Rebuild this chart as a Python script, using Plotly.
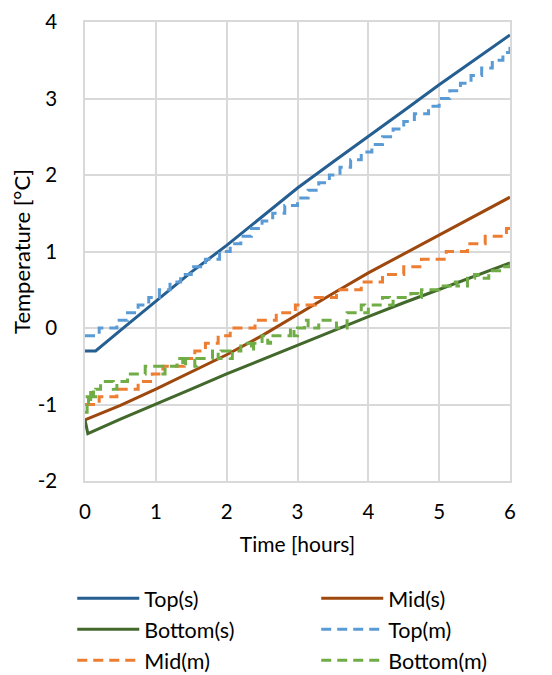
import plotly.graph_objects as go

# ---- data ----
t_solid = [0, 0.15, 0.5, 1, 1.5, 2, 2.5, 3, 3.5, 4, 4.5, 5, 5.5, 6]
top_s = [-0.3, -0.3, -0.03, 0.35, 0.73, 1.08, 1.46, 1.83, 2.17, 2.5, 2.84, 3.18, 3.5, 3.83]

t_mid_s = [0, 0.5, 1, 1.5, 2, 2.5, 3, 3.5, 4, 4.5, 5, 5.5, 6]
mid_s = [-1.2, -1.01, -0.8, -0.58, -0.35, -0.1, 0.18, 0.45, 0.72, 0.97, 1.22, 1.46, 1.71]

t_bot_s = [0, 0.04, 0.5, 1, 1.5, 2, 2.5, 3, 3.5, 4, 4.5, 5, 5.5, 6]
bot_s = [-1.2, -1.38, -1.19, -1.0, -0.8, -0.6, -0.41, -0.22, -0.03, 0.15, 0.33, 0.5, 0.68, 0.85]

t_top_m = [0, 0.2, 0.45, 0.6, 0.75, 0.9, 1.05, 1.2, 1.35, 1.5, 1.7, 1.9, 2.05, 2.2, 2.35,
           2.5, 2.65, 2.82, 3.0, 3.15, 3.3, 3.45, 3.6, 3.75, 3.9, 4.05, 4.2, 4.35, 4.5,
           4.65, 4.85, 5.0, 5.15, 5.3, 5.45, 5.6, 5.75, 5.9, 6.0]
top_m = [-0.1, 0.0, 0.1, 0.2, 0.3, 0.4, 0.5, 0.6, 0.7, 0.8, 0.9, 1.0, 1.1, 1.2, 1.3,
         1.4, 1.5, 1.6, 1.7, 1.8, 1.9, 2.0, 2.1, 2.2, 2.3, 2.4, 2.5, 2.6, 2.7,
         2.8, 2.9, 3.0, 3.1, 3.2, 3.3, 3.4, 3.5, 3.6, 3.7]

t_mid_m = [0, 0.2, 0.45, 0.75, 0.95, 1.1, 1.4, 1.55, 1.7, 1.88, 2.05, 2.4, 2.7, 2.97,
           3.25, 3.55, 3.9, 4.2, 4.5, 4.75, 5.1, 5.4, 5.65, 5.95, 6.0]
mid_m = [-1.0, -0.9, -0.8, -0.7, -0.6, -0.5, -0.4, -0.3, -0.2, -0.1, 0.0, 0.1, 0.2, 0.3,
         0.4, 0.5, 0.6, 0.7, 0.8, 0.9, 1.0, 1.1, 1.2, 1.3, 1.3]

t_bot_m = [0, 0.03, 0.05, 0.08, 0.12, 0.15, 0.22, 0.4, 0.45, 0.6, 0.85, 1.1, 1.13, 1.3,
           1.38, 1.42, 1.55, 1.58, 1.8, 1.88, 1.92, 2.05, 2.08, 2.2, 2.35, 2.38, 2.5,
           2.58, 2.62, 2.9, 2.95, 3.0, 3.1, 3.15, 3.3, 3.5, 3.55, 3.7, 3.9, 3.95, 4.0,
           4.2, 4.3, 4.35, 4.6, 4.7, 4.75, 5.0, 5.2, 5.25, 5.4, 5.5, 5.55, 5.7, 5.9, 6.0]
bot_m = [-1.1, -0.9, -1.0, -0.8, -0.9, -0.8, -0.7, -0.8, -0.7, -0.6, -0.5, -0.6, -0.5, -0.4,
         -0.5, -0.4, -0.5, -0.4, -0.3, -0.4, -0.3, -0.4, -0.3, -0.2, -0.3, -0.2, -0.1,
         -0.2, -0.1, 0.0, -0.1, 0.0, 0.1, 0.0, 0.1, 0.1, 0.0, 0.2, 0.3, 0.2, 0.3,
         0.4, 0.3, 0.4, 0.45, 0.4, 0.5, 0.55, 0.6, 0.55, 0.65, 0.7, 0.65, 0.75, 0.8, 0.85]

x_ticks = [0, 1, 2, 3, 4, 5, 6]
y_ticks = [-2, -1, 0, 1, 2, 3, 4]

FONT = "Lato"
GRID = "#d9d9d9"

fig = go.Figure()
fig.add_trace(go.Scatter(x=t_solid, y=top_s, name="Top(s)", mode="lines",
                         line=dict(color="#255E91", width=3)))
fig.add_trace(go.Scatter(x=t_mid_s, y=mid_s, name="Mid(s)", mode="lines",
                         line=dict(color="#9E480E", width=3)))
fig.add_trace(go.Scatter(x=t_bot_s, y=bot_s, name="Bottom(s)", mode="lines",
                         line=dict(color="#43682B", width=3)))
fig.add_trace(go.Scatter(x=t_top_m, y=top_m, name="Top(m)", mode="lines",
                         line=dict(color="#5B9BD5", width=3, dash="10px,6px", shape="hv")))
fig.add_trace(go.Scatter(x=t_mid_m, y=mid_m, name="Mid(m)", mode="lines",
                         line=dict(color="#ED7D31", width=3, dash="10px,6px", shape="hv")))
fig.add_trace(go.Scatter(x=t_bot_m, y=bot_m, name="Bottom(m)", mode="lines",
                         line=dict(color="#70AD47", width=3, dash="10px,6px", shape="hv")))

fig.update_layout(
    width=552, height=675,
    margin=dict(l=77, r=50, t=14, b=202, autoexpand=False),
    paper_bgcolor="white", plot_bgcolor="white",
    font=dict(family=FONT, size=20, color="#000000"),
    showlegend=True,
    legend=dict(orientation="h", x=-0.03, xanchor="left", y=-0.211, yanchor="top",
                itemwidth=62, entrywidth=167, entrywidthmode="pixels", tracegroupgap=0,
                font=dict(family=FONT, size=21.5, color="#000000")),
)
fig.update_xaxes(range=[0, 6], tickvals=x_ticks, ticktext=[str(v) for v in x_ticks],
                 showgrid=True, gridcolor=GRID, gridwidth=1.5,
                 showline=True, linecolor=GRID, linewidth=1.5, mirror=True,
                 zeroline=False, ticks="outside", ticklen=12, tickcolor="rgba(0,0,0,0)",
                 title=dict(text="Time [hours]", standoff=15,
                            font=dict(family=FONT, size=21)),
                 tickfont=dict(family=FONT, size=20.5))
fig.update_yaxes(range=[-2, 4], tickvals=y_ticks, ticktext=[str(v) for v in y_ticks],
                 showgrid=True, gridcolor=GRID, gridwidth=1.5,
                 showline=True, linecolor=GRID, linewidth=1.5, mirror=True,
                 zeroline=False, ticks="outside", ticklen=22, tickcolor="rgba(0,0,0,0)",
                 title=dict(text="Temperature [°C]", standoff=6,
                            font=dict(family=FONT, size=22)),
                 tickfont=dict(family=FONT, size=20.5))

fig.write_html("out.html")
